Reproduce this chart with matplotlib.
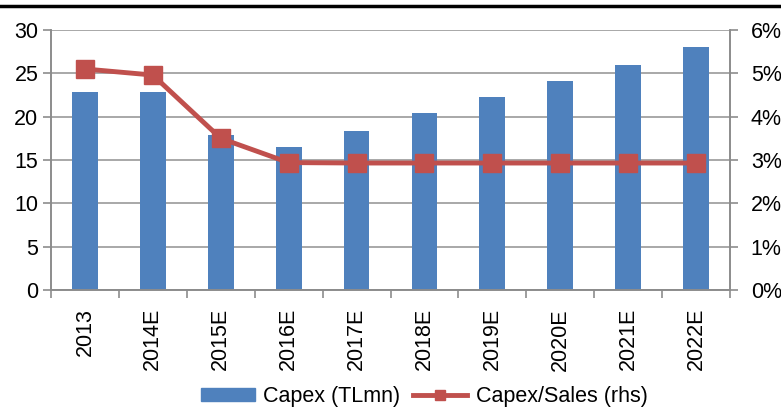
import matplotlib
matplotlib.use("Agg")
import matplotlib.pyplot as plt
from matplotlib.lines import Line2D
from matplotlib.patches import Patch
import numpy as np

plt.rcParams['font.family'] = ['Liberation Sans', 'DejaVu Sans']

years = ['2013', '2014E', '2015E', '2016E', '2017E', '2018E', '2019E', '2020E', '2021E', '2022E']
capex = [22.8, 22.8, 17.9, 16.5, 18.4, 20.4, 22.3, 24.1, 26.0, 28.0]
capex_sales = [5.10, 4.96, 3.50, 2.94, 2.93, 2.93, 2.93, 2.93, 2.93, 2.93]  # %

blue = '#4F81BD'
red = '#C0504D'
grey = '#8C8C8C'
fs = 15.5

fig = plt.figure(figsize=(7.81, 4.08), dpi=100)
ax = fig.add_axes([0.0653, 0.2892, 0.8694, 0.6373])
ax2 = ax.twinx()

x = np.arange(len(years))
ax.bar(x, capex, width=0.38, color=blue, zorder=2)
ax.set_ylim(0, 30)
ax.set_yticks(range(0, 31, 5))
ax.set_xlim(-0.5, len(years) - 0.5)
ax.set_xticks(x)
ax.set_xticklabels(years, rotation=90)
ax.set_xticks(np.arange(-0.5, len(years)), minor=True)
ax.tick_params(axis='x', which='major', length=0, pad=13, labelsize=fs)
ax.tick_params(axis='x', which='minor', length=6, color=grey, width=1.2)
ax.tick_params(axis='y', length=6, color=grey, width=1.2, labelsize=fs, pad=3)
ax.yaxis.grid(True, color='#999999', linewidth=1.2, zorder=0)
ax.set_axisbelow(True)

ax2.plot(x, capex_sales, color=red, linewidth=3.5, marker='s', markersize=13,
         markerfacecolor=red, markeredgecolor=red, zorder=3)
ax2.set_ylim(0, 6)
ax2.set_yticks(range(0, 7))
ax2.set_yticklabels([f'{v}%' for v in range(0, 7)])
ax2.tick_params(axis='y', length=6, color=grey, width=1.2, labelsize=fs, pad=9)

for a in (ax, ax2):
    for s in a.spines.values():
        s.set_color(grey)
        s.set_linewidth(1.2)
ax.spines['top'].set_visible(False)
ax2.spines['top'].set_visible(False)

# heavy rule across the top of the figure
fig.add_artist(Line2D([0, 1], [0.986, 0.986], transform=fig.transFigure,
                      color='black', linewidth=2.5))

handles = [Patch(color=blue),
           Line2D([0], [0], color=red, linewidth=3.5, marker='s', markersize=7,
                  markerfacecolor=red, markeredgecolor=red)]
fig.legend(handles, ['Capex (TLmn)', 'Capex/Sales (rhs)'], loc='center',
           bbox_to_anchor=(0.543, 0.027), ncol=2, frameon=False, fontsize=fs,
           handlelength=2.5, handleheight=0.55, columnspacing=0.6, handletextpad=0.4)

fig.savefig('out.png', dpi=100)
